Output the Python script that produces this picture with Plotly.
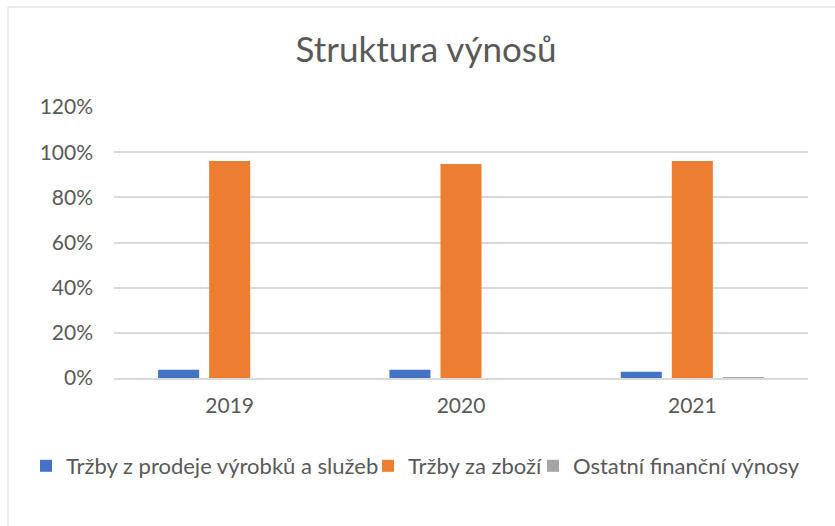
import plotly.graph_objects as go

years = ["2019", "2020", "2021"]
series_names = ["Tržby z prodeje výrobků a služeb", "Tržby za zboží", "Ostatní finanční výnosy"]
trzby_vyrobky = [0.036, 0.036, 0.028]
trzby_zbozi = [0.961, 0.948, 0.961]
ostatni_fin = [0.0, 0.0, 0.004]
colors = ["#4472C4", "#ED7D31", "#A5A5A5"]
tick_vals = [0, 0.2, 0.4, 0.6, 0.8, 1.0, 1.2]
tick_text = ["0%", "20%", "40%", "60%", "80%", "100%", "120%"]

FONT = "Lato"
W, H = 835, 526
ml, mr, mt, mb = 114, 27, 107, 148

legend_ids = ["legend", "legend2", "legend3"]
legend_x = [26, 368, 533]

fig = go.Figure()
for name, vals, c, lg in zip(series_names, [trzby_vyrobky, trzby_zbozi, ostatni_fin], colors, legend_ids):
    fig.add_trace(go.Bar(x=years, y=vals, name=name, legend=lg, showlegend=True,
                         marker=dict(color=c, line=dict(width=0))))

pw = W - ml - mr
ph = H - mt - mb
fig.add_shape(type="rect", xref="paper", yref="paper",
              x0=(8 - ml) / pw, x1=(W + 5 - ml) / pw,
              y0=1 - (H + 5 - mt) / ph, y1=1 - (7 - mt) / ph,
              line=dict(color="#D9D9D9", width=1), layer="below")

leg_common = dict(orientation="h", xanchor="left", xref="container", yref="container",
                  y=1 - 466 / H, yanchor="middle", bgcolor="rgba(0,0,0,0)",
                  font=dict(family=FONT, size=22, color="#595959"), itemwidth=30)

fig.update_layout(
    width=W, height=H,
    showlegend=True,
    margin=dict(l=ml, r=mr, t=mt, b=mb),
    paper_bgcolor="white", plot_bgcolor="white",
    barmode="group", bargap=0.338, bargroupgap=0.196,
    title=dict(text="Struktura výnosů", x=426 / W, xref="container", xanchor="center",
               y=1 - 50 / H, yanchor="middle",
               font=dict(family=FONT, size=35, color="#595959")),
    font=dict(family=FONT, color="#595959", size=21),
    xaxis=dict(showgrid=False, showline=True, linecolor="#D9D9D9", linewidth=2,
               ticks="", ticklabelstandoff=8, automargin=False,
               tickfont=dict(size=21, color="#595959")),
    yaxis=dict(range=[0, 1.2], tickvals=tick_vals, ticktext=tick_text,
               showgrid=True, gridcolor="#D9D9D9", gridwidth=1.5, zeroline=False,
               showline=False, ticks="", ticklabelstandoff=20, automargin=False,
               tickfont=dict(size=21, color="#595959")),
    legend=dict(x=legend_x[0] / W, **leg_common),
    legend2=dict(x=legend_x[1] / W, **leg_common),
    legend3=dict(x=legend_x[2] / W, **leg_common),
)

fig.write_html("out.html", config={"displayModeBar": False},
               post_script="document.body.style.margin='0';document.body.style.overflow='hidden';")
